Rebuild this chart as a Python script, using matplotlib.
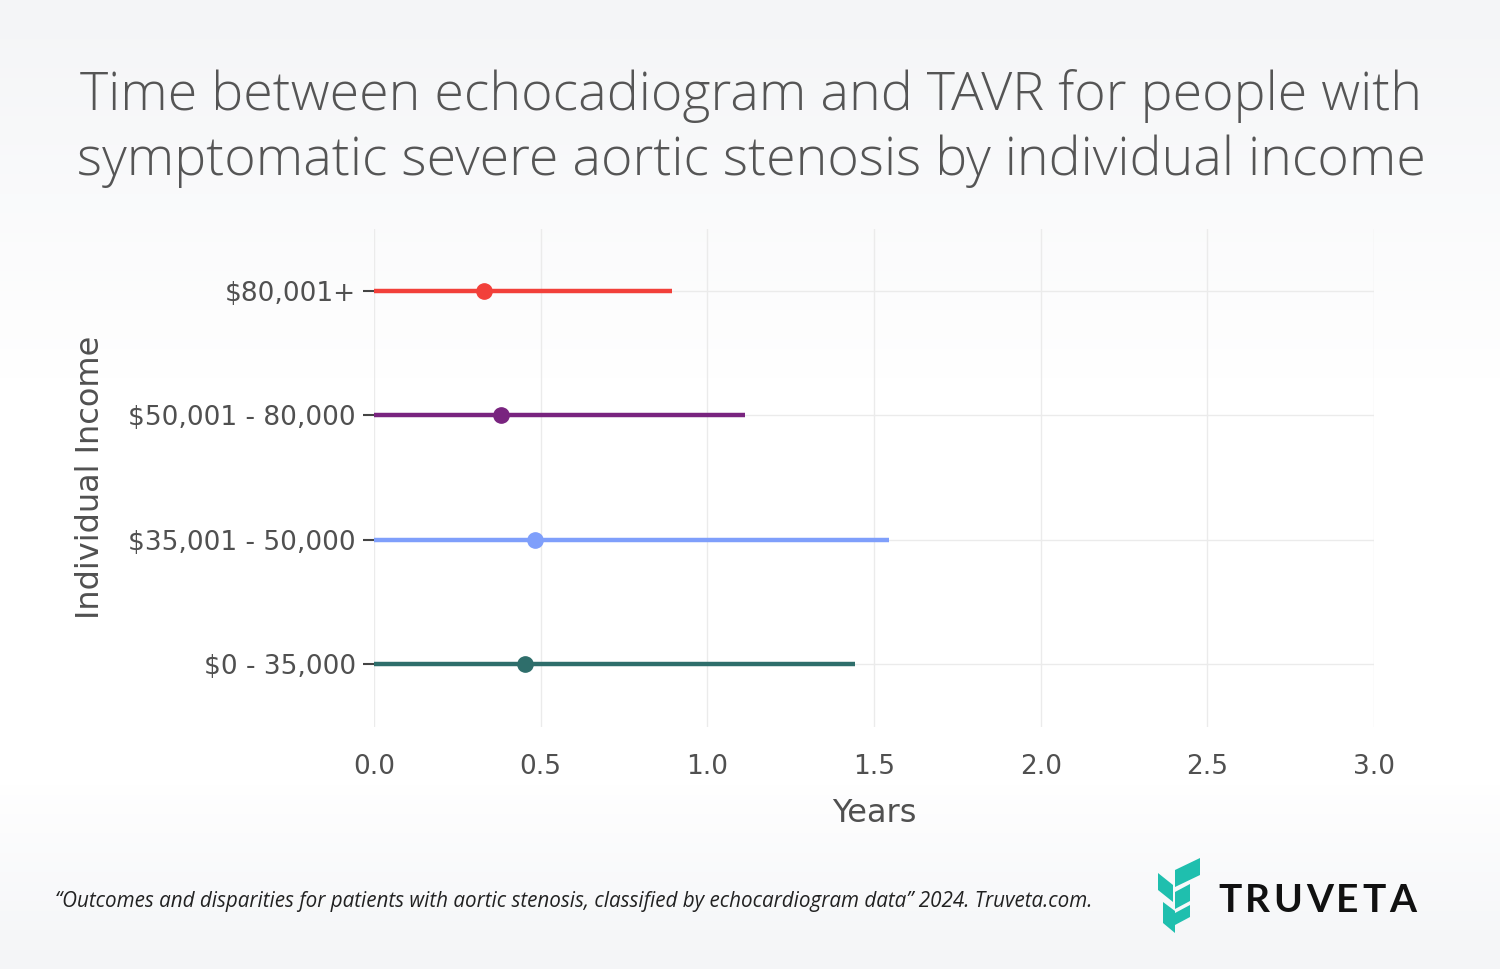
import matplotlib
matplotlib.use("Agg")
import matplotlib.pyplot as plt
import numpy as np
from matplotlib.patches import Polygon

categories = ["$0 - 35,000", "$35,001 - 50,000", "$50,001 - 80,000", "$80,001+"]
medians = [0.453, 0.483, 0.38, 0.33]
upper = [1.443, 1.545, 1.113, 0.894]
lower = [0.0, 0.0, 0.0, 0.0]
colors = ["#2e6e6b", "#7f9ffb", "#79247f", "#f2403a"]
xticks = [0.0, 0.5, 1.0, 1.5, 2.0, 2.5, 3.0]
title_lines = ["Time between echocadiogram and TAVR for people with",
               "symptomatic severe aortic stenosis by individual income"]

W, H = 1500, 969
fig = plt.figure(figsize=(W / 100, H / 100), dpi=100)

# background gradient
bg = fig.add_axes([0, 0, 1, 1], zorder=-10)
grad = np.concatenate([np.linspace(0, 1, 40), np.ones(40), np.linspace(1, 0, 20)])
col_top = np.array([0.957, 0.961, 0.969])
col_mid = np.array([1.0, 1.0, 1.0])
img = col_top[None, :] * (1 - grad[:, None]) + col_mid[None, :] * grad[:, None]
bg.imshow(img[:, None, :], aspect="auto", extent=[0, 1, 0, 1])
bg.axis("off")

def fx(px):
    return px / W

def fy(py):
    return 1 - py / H

ax = fig.add_axes([fx(374), fy(726.5), fx(1374) - fx(374), fy(228.5) - fy(726.5)])
ax.patch.set_alpha(0)
ypos = np.arange(len(categories))
for i in range(len(categories)):
    ax.plot([lower[i], upper[i]], [ypos[i], ypos[i]], color=colors[i], lw=3.2,
            solid_capstyle="butt", zorder=3)
    ax.plot(medians[i], ypos[i], "o", color=colors[i], ms=11, zorder=4)

ax.set_xlim(0, 3.0)
ax.set_ylim(-0.5, 3.5)
ax.set_xticks(xticks)
ax.set_xticklabels([f"{v:.1f}" for v in xticks])
ax.set_yticks(ypos)
ax.set_yticklabels(categories)
for s in ax.spines.values():
    s.set_visible(False)
ax.grid(True, color="#ebebeb", lw=1)
ax.set_axisbelow(True)
ax.tick_params(axis="x", length=0, pad=20, labelsize=19, labelcolor="#505050")
ax.tick_params(axis="y", length=8, width=1.5, color="#444444", pad=5,
               labelsize=19, labelcolor="#505050")
for lab in ax.get_xticklabels() + ax.get_yticklabels():
    lab.set_family("DejaVu Sans")
ax.set_xlabel("Years", fontsize=23, color="#505050", family="DejaVu Sans", labelpad=13)
ax.set_ylabel("Individual Income", fontsize=23, color="#505050", family="DejaVu Sans",
              labelpad=16)

for k, line in enumerate(title_lines):
    fig.text(fx(751), fy(96 + 65 * k), line,
             ha="center", va="center", fontsize=38.7, color="#555555",
             family="Open Sans", fontweight="light")

fig.text(fx(55), fy(902),
         "\u201cOutcomes and disparities for patients with aortic stenosis, classified by echocardiogram data\u201d 2024. Truveta.com.",
         ha="left", va="center", fontsize=14.9, style="italic", color="#222222",
         family="Open Sans")

# logo
teal = "#1fbfae"
logo = fig.add_axes([fx(1155), fy(935), fx(1205) - fx(1155), fy(855) - fy(935)])
logo.set_xlim(0, 50)
logo.set_ylim(80, 0)
logo.axis("off")
shapes = [
    [(3, 18), (18, 30), (18, 47), (3, 35)],
    [(20, 15), (45, 3), (45, 20), (20, 32)],
    [(20, 37), (35, 29), (35, 46), (20, 54)],
    [(8, 47), (20, 56), (20, 78), (8, 68)],
    [(20, 58), (35, 50), (35, 62), (20, 70)],
]
for s in shapes:
    logo.add_patch(Polygon(s, closed=True, color=teal, lw=0))

renderer = fig.canvas.get_renderer()
xpos = 1218.0
for ch in "TRUVETA":
    t = fig.text(fx(xpos), fy(900), ch, ha="left", va="center", fontsize=28,
                 fontweight="bold", color="#111111", family="Lato")
    bb = t.get_window_extent(renderer=renderer)
    xpos += bb.width + 3.5

fig.savefig("out.png", dpi=100)
